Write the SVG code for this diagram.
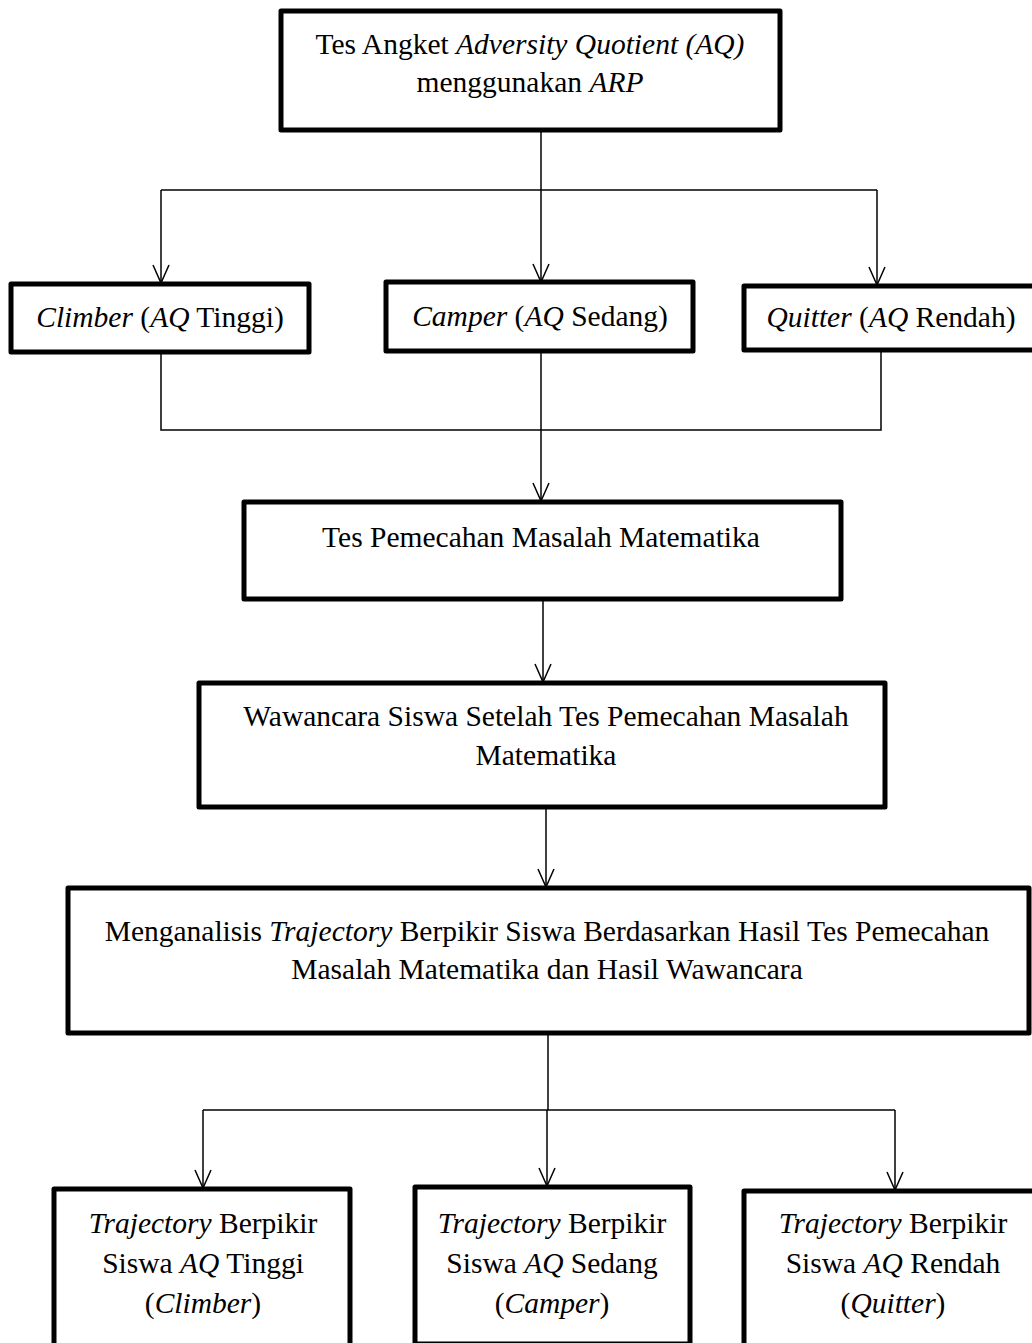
<svg xmlns="http://www.w3.org/2000/svg" width="1032" height="1343" viewBox="0 0 1032 1343">
<style>
.box{fill:#fff;stroke:#000;stroke-width:5;stroke-linejoin:round}
.t{font-family:"Liberation Serif","Times New Roman",serif;font-size:29.5px;fill:#000;text-anchor:middle}
.i{font-style:italic}
.c{fill:none;stroke:#000;stroke-width:1.5}
</style>
<defs>
<marker id="ah" viewBox="0 0 20 20" refX="19" refY="10" markerWidth="20" markerHeight="20" markerUnits="userSpaceOnUse" orient="auto">
<path d="M1,2 L19,10 L1,18" fill="none" stroke="#000" stroke-width="1.5"/>
</marker>
</defs>
<rect width="1032" height="1343" fill="#fff"/>
<g id="connectors">
<path class="c" d="M541,130 V190"/>
<path class="c" d="M161,190 H877"/>
<path class="c" d="M161,190 V283" marker-end="url(#ah)"/>
<path class="c" d="M541,190 V282" marker-end="url(#ah)"/>
<path class="c" d="M877,190 V285" marker-end="url(#ah)"/>
<path class="c" d="M161,352 V430 H881 V350"/>
<path class="c" d="M541,351 V430"/>
<path class="c" d="M541,430 V501" marker-end="url(#ah)"/>
<path class="c" d="M543,599 V682" marker-end="url(#ah)"/>
<path class="c" d="M546,808 V887" marker-end="url(#ah)"/>
<path class="c" d="M548,1034 V1110"/>
<path class="c" d="M203,1110 H895"/>
<path class="c" d="M203,1110 V1188" marker-end="url(#ah)"/>
<path class="c" d="M547,1110 V1186" marker-end="url(#ah)"/>
<path class="c" d="M895,1110 V1190" marker-end="url(#ah)"/>
</g>
<g id="n1">
<rect class="box" x="281" y="11" width="499" height="119"/>
<text class="t" x="530" y="54">Tes Angket <tspan class="i">Adversity Quotient (AQ)</tspan></text>
<text class="t" x="530" y="92">menggunakan <tspan class="i">ARP</tspan></text>
</g>
<g id="n2">
<rect class="box" x="11" y="284" width="298" height="68"/>
<text class="t" x="160" y="327"><tspan class="i">Climber</tspan> (<tspan class="i">AQ</tspan> Tinggi)</text>
</g>
<g id="n3">
<rect class="box" x="386" y="282" width="307" height="69"/>
<text class="t" x="540" y="326"><tspan class="i">Camper</tspan> (<tspan class="i">AQ</tspan> Sedang)</text>
</g>
<g id="n4">
<rect class="box" x="744" y="286" width="300" height="64"/>
<text class="t" x="891" y="327"><tspan class="i">Quitter</tspan> (<tspan class="i">AQ</tspan> Rendah)</text>
</g>
<g id="n5">
<rect class="box" x="244" y="502" width="597" height="97"/>
<text class="t" x="541" y="547">Tes Pemecahan Masalah Matematika</text>
</g>
<g id="n6">
<rect class="box" x="199" y="683" width="686" height="124"/>
<text class="t" x="546" y="726">Wawancara Siswa Setelah Tes Pemecahan Masalah</text>
<text class="t" x="546" y="765">Matematika</text>
</g>
<g id="n7">
<rect class="box" x="68" y="888" width="961" height="145"/>
<text class="t" x="547" y="941">Menganalisis <tspan class="i">Trajectory</tspan> Berpikir Siswa Berdasarkan Hasil Tes Pemecahan</text>
<text class="t" x="547" y="979">Masalah Matematika dan Hasil Wawancara</text>
</g>
<g id="n8">
<rect class="box" x="54" y="1189" width="296" height="200"/>
<text class="t" x="203" y="1233"><tspan class="i">Trajectory</tspan> Berpikir</text>
<text class="t" x="203" y="1273">Siswa <tspan class="i">AQ</tspan> Tinggi</text>
<text class="t" x="203" y="1313">(<tspan class="i">Climber</tspan>)</text>
</g>
<g id="n9">
<rect class="box" x="415" y="1187" width="275" height="157"/>
<text class="t" x="552" y="1233"><tspan class="i">Trajectory</tspan> Berpikir</text>
<text class="t" x="552" y="1273">Siswa <tspan class="i">AQ</tspan> Sedang</text>
<text class="t" x="552" y="1313">(<tspan class="i">Camper</tspan>)</text>
</g>
<g id="n10">
<rect class="box" x="744" y="1191" width="300" height="200"/>
<text class="t" x="893" y="1233"><tspan class="i">Trajectory</tspan> Berpikir</text>
<text class="t" x="893" y="1273">Siswa <tspan class="i">AQ</tspan> Rendah</text>
<text class="t" x="893" y="1313">(<tspan class="i">Quitter</tspan>)</text>
</g>
</svg>
